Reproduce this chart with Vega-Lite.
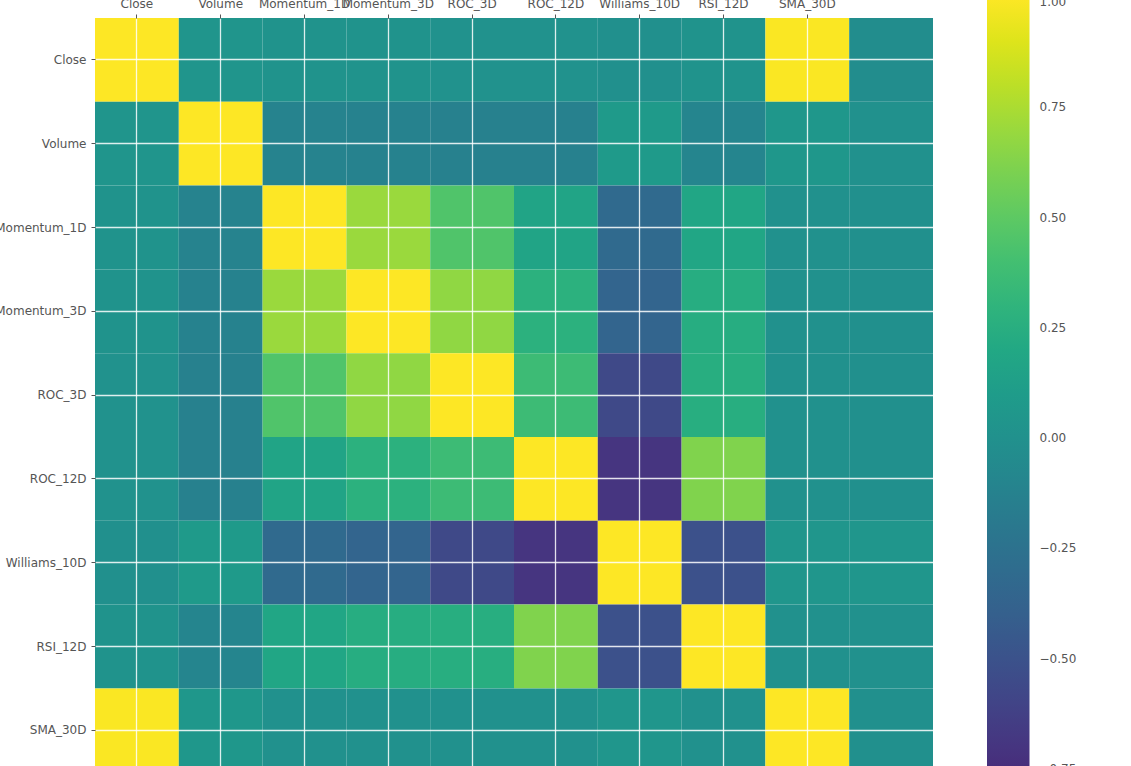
{
  "$schema": "https://vega.github.io/schema/vega-lite/v6.json",
  "autosize": {"type": "none"},
  "padding": {"left": 95, "top": 18, "right": 198, "bottom": 0},
  "width": 838,
  "height": 748,
  "background": "white",
  "config": {
    "view": {"stroke": null},
    "font": "DejaVu Sans",
    "axis": {
      "domain": false,
      "labelFont": "DejaVu Sans",
      "labelFontSize": 12,
      "labelColor": "#555555",
      "tickColor": "#555555",
      "tickSize": 4,
      "tickWidth": 1,
      "title": null,
      "labelOverlap": false,
      "labelAngle": 0
    }
  },
  "data": {
    "values": [
      {"row": "Close", "col": "Close", "value": 1.0},
      {"row": "Close", "col": "Volume", "value": 0.04},
      {"row": "Close", "col": "Momentum_1D", "value": 0.02},
      {"row": "Close", "col": "Momentum_3D", "value": 0.02},
      {"row": "Close", "col": "ROC_3D", "value": 0.01},
      {"row": "Close", "col": "ROC_12D", "value": 0.01},
      {"row": "Close", "col": "Williams_10D", "value": -0.01},
      {"row": "Close", "col": "RSI_12D", "value": 0.02},
      {"row": "Close", "col": "SMA_30D", "value": 0.99},
      {"row": "Close", "col": "Target", "value": -0.03},
      {"row": "Volume", "col": "Close", "value": 0.04},
      {"row": "Volume", "col": "Volume", "value": 1.0},
      {"row": "Volume", "col": "Momentum_1D", "value": -0.11},
      {"row": "Volume", "col": "Momentum_3D", "value": -0.12},
      {"row": "Volume", "col": "ROC_3D", "value": -0.13},
      {"row": "Volume", "col": "ROC_12D", "value": -0.13},
      {"row": "Volume", "col": "Williams_10D", "value": 0.08},
      {"row": "Volume", "col": "RSI_12D", "value": -0.10},
      {"row": "Volume", "col": "SMA_30D", "value": 0.06},
      {"row": "Volume", "col": "Target", "value": 0.0},
      {"row": "Momentum_1D", "col": "Close", "value": 0.02},
      {"row": "Momentum_1D", "col": "Volume", "value": -0.11},
      {"row": "Momentum_1D", "col": "Momentum_1D", "value": 1.0},
      {"row": "Momentum_1D", "col": "Momentum_3D", "value": 0.70},
      {"row": "Momentum_1D", "col": "ROC_3D", "value": 0.45},
      {"row": "Momentum_1D", "col": "ROC_12D", "value": 0.17},
      {"row": "Momentum_1D", "col": "Williams_10D", "value": -0.32},
      {"row": "Momentum_1D", "col": "RSI_12D", "value": 0.18},
      {"row": "Momentum_1D", "col": "SMA_30D", "value": 0.0},
      {"row": "Momentum_1D", "col": "Target", "value": -0.01},
      {"row": "Momentum_3D", "col": "Close", "value": 0.02},
      {"row": "Momentum_3D", "col": "Volume", "value": -0.12},
      {"row": "Momentum_3D", "col": "Momentum_1D", "value": 0.70},
      {"row": "Momentum_3D", "col": "Momentum_3D", "value": 1.0},
      {"row": "Momentum_3D", "col": "ROC_3D", "value": 0.67},
      {"row": "Momentum_3D", "col": "ROC_12D", "value": 0.28},
      {"row": "Momentum_3D", "col": "Williams_10D", "value": -0.36},
      {"row": "Momentum_3D", "col": "RSI_12D", "value": 0.24},
      {"row": "Momentum_3D", "col": "SMA_30D", "value": 0.0},
      {"row": "Momentum_3D", "col": "Target", "value": -0.01},
      {"row": "ROC_3D", "col": "Close", "value": 0.01},
      {"row": "ROC_3D", "col": "Volume", "value": -0.13},
      {"row": "ROC_3D", "col": "Momentum_1D", "value": 0.45},
      {"row": "ROC_3D", "col": "Momentum_3D", "value": 0.67},
      {"row": "ROC_3D", "col": "ROC_3D", "value": 1.0},
      {"row": "ROC_3D", "col": "ROC_12D", "value": 0.37},
      {"row": "ROC_3D", "col": "Williams_10D", "value": -0.57},
      {"row": "ROC_3D", "col": "RSI_12D", "value": 0.25},
      {"row": "ROC_3D", "col": "SMA_30D", "value": 0.0},
      {"row": "ROC_3D", "col": "Target", "value": -0.01},
      {"row": "ROC_12D", "col": "Close", "value": 0.01},
      {"row": "ROC_12D", "col": "Volume", "value": -0.13},
      {"row": "ROC_12D", "col": "Momentum_1D", "value": 0.17},
      {"row": "ROC_12D", "col": "Momentum_3D", "value": 0.28},
      {"row": "ROC_12D", "col": "ROC_3D", "value": 0.37},
      {"row": "ROC_12D", "col": "ROC_12D", "value": 1.0},
      {"row": "ROC_12D", "col": "Williams_10D", "value": -0.70},
      {"row": "ROC_12D", "col": "RSI_12D", "value": 0.62},
      {"row": "ROC_12D", "col": "SMA_30D", "value": 0.0},
      {"row": "ROC_12D", "col": "Target", "value": -0.01},
      {"row": "Williams_10D", "col": "Close", "value": -0.01},
      {"row": "Williams_10D", "col": "Volume", "value": 0.08},
      {"row": "Williams_10D", "col": "Momentum_1D", "value": -0.32},
      {"row": "Williams_10D", "col": "Momentum_3D", "value": -0.36},
      {"row": "Williams_10D", "col": "ROC_3D", "value": -0.57},
      {"row": "Williams_10D", "col": "ROC_12D", "value": -0.70},
      {"row": "Williams_10D", "col": "Williams_10D", "value": 1.0},
      {"row": "Williams_10D", "col": "RSI_12D", "value": -0.51},
      {"row": "Williams_10D", "col": "SMA_30D", "value": 0.05},
      {"row": "Williams_10D", "col": "Target", "value": 0.05},
      {"row": "RSI_12D", "col": "Close", "value": 0.02},
      {"row": "RSI_12D", "col": "Volume", "value": -0.10},
      {"row": "RSI_12D", "col": "Momentum_1D", "value": 0.18},
      {"row": "RSI_12D", "col": "Momentum_3D", "value": 0.24},
      {"row": "RSI_12D", "col": "ROC_3D", "value": 0.25},
      {"row": "RSI_12D", "col": "ROC_12D", "value": 0.62},
      {"row": "RSI_12D", "col": "Williams_10D", "value": -0.51},
      {"row": "RSI_12D", "col": "RSI_12D", "value": 1.0},
      {"row": "RSI_12D", "col": "SMA_30D", "value": 0.0},
      {"row": "RSI_12D", "col": "Target", "value": 0.0},
      {"row": "SMA_30D", "col": "Close", "value": 0.99},
      {"row": "SMA_30D", "col": "Volume", "value": 0.06},
      {"row": "SMA_30D", "col": "Momentum_1D", "value": 0.0},
      {"row": "SMA_30D", "col": "Momentum_3D", "value": 0.0},
      {"row": "SMA_30D", "col": "ROC_3D", "value": 0.0},
      {"row": "SMA_30D", "col": "ROC_12D", "value": 0.0},
      {"row": "SMA_30D", "col": "Williams_10D", "value": 0.05},
      {"row": "SMA_30D", "col": "RSI_12D", "value": 0.0},
      {"row": "SMA_30D", "col": "SMA_30D", "value": 1.0},
      {"row": "SMA_30D", "col": "Target", "value": -0.01},
      {"row": "Target", "col": "Close", "value": -0.03},
      {"row": "Target", "col": "Volume", "value": 0.0},
      {"row": "Target", "col": "Momentum_1D", "value": -0.01},
      {"row": "Target", "col": "Momentum_3D", "value": -0.01},
      {"row": "Target", "col": "ROC_3D", "value": -0.01},
      {"row": "Target", "col": "ROC_12D", "value": -0.01},
      {"row": "Target", "col": "Williams_10D", "value": 0.05},
      {"row": "Target", "col": "RSI_12D", "value": 0.0},
      {"row": "Target", "col": "SMA_30D", "value": -0.01},
      {"row": "Target", "col": "Target", "value": 1.0}
    ]
  },
  "mark": {"type": "rect"},
  "encoding": {
    "x": {
      "field": "col",
      "type": "nominal",
      "sort": null,
      "scale": {
        "domain": ["Close", "Volume", "Momentum_1D", "Momentum_3D", "ROC_3D", "ROC_12D", "Williams_10D", "RSI_12D", "SMA_30D", "Target"],
        "paddingInner": 0,
        "paddingOuter": 0
      },
      "axis": {
        "orient": "top",
        "labelPadding": 4,
        "grid": true,
        "gridColor": "#ffffff",
        "gridOpacity": 0.85,
        "gridWidth": 1.3,
        "bandPosition": 0.5,
        "zindex": 1,
        "values": ["Close", "Volume", "Momentum_1D", "Momentum_3D", "ROC_3D", "ROC_12D", "Williams_10D", "RSI_12D", "SMA_30D"]
      }
    },
    "y": {
      "field": "row",
      "type": "nominal",
      "sort": null,
      "scale": {
        "domain": ["Close", "Volume", "Momentum_1D", "Momentum_3D", "ROC_3D", "ROC_12D", "Williams_10D", "RSI_12D", "SMA_30D", "Target"],
        "range": [0, 838],
        "paddingInner": 0,
        "paddingOuter": 0
      },
      "axis": {
        "orient": "left",
        "labelPadding": 5,
        "grid": true,
        "gridColor": "#ffffff",
        "gridOpacity": 0.85,
        "gridWidth": 1.3,
        "bandPosition": 0.5,
        "zindex": 1,
        "values": ["Close", "Volume", "Momentum_1D", "Momentum_3D", "ROC_3D", "ROC_12D", "Williams_10D", "RSI_12D", "SMA_30D"]
      }
    },
    "color": {
      "field": "value",
      "type": "quantitative",
      "scale": {"scheme": "viridis", "domain": [-1, 1]},
      "legend": {
        "type": "gradient",
        "orient": "none",
        "legendX": 892,
        "legendY": -21,
        "direction": "vertical",
        "title": null,
        "padding": 0,
        "gradientLength": 882,
        "gradientThickness": 42.5,
        "gradientStrokeWidth": 0,
        "values": [-1, -0.75, -0.5, -0.25, 0, 0.25, 0.5, 0.75, 1],
        "format": ".2f",
        "labelFont": "DejaVu Sans",
        "labelFontSize": 12,
        "labelColor": "#555555",
        "labelBaseline": "middle",
        "labelOffset": 10,
        "labelOverlap": false
      }
    }
  }
}
